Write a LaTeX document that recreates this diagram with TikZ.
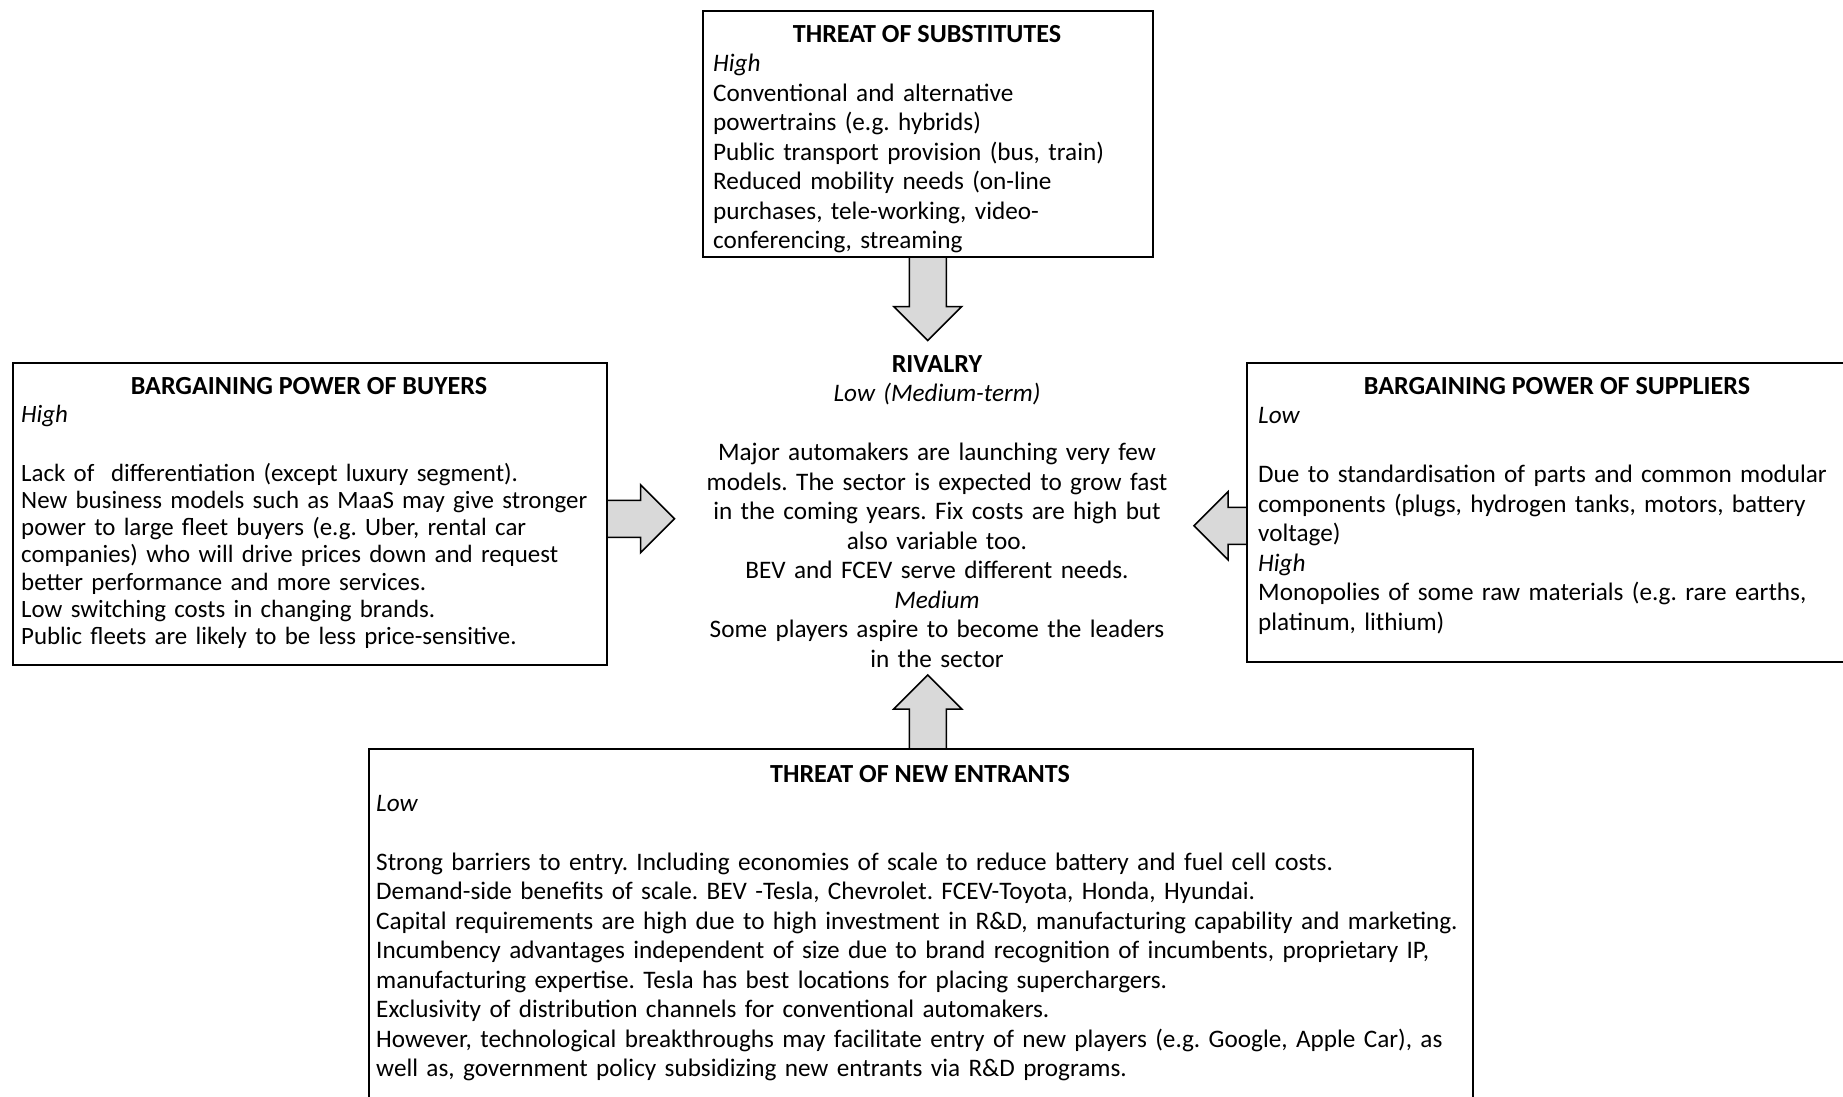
\documentclass[tikz,border=0pt]{standalone}
\usepackage{fontspec}
\setmainfont{Carlito}
\usetikzlibrary{calc}
\pgfdeclarelayer{bg}
\pgfsetlayers{bg,main}
\definecolor{arrowgray}{HTML}{D9D9D9}
\tikzset{
  frame/.style={draw=black, line width=1.5pt, inner sep=0pt, anchor=north west},
  ttl/.style={inner sep=0pt, anchor=base, font=\fontsize{26.1}{29.5}\selectfont\bfseries},
  body/.style={inner sep=0pt, anchor=base west, align=left, text width=1200pt, font=\fontsize{25.2}{29.5}\selectfont\frenchspacing},
  fatarr/.style={draw=black, fill=arrowgray, line width=1.5pt, line join=miter}
}
\newcommand{\fatarrow}[3]{%
  \filldraw[fatarr, shift={#1}, rotate=#2] (0,18.5) -- (#3-34,18.5) -- (#3-34,34) -- (#3,0) -- (#3-34,-34) -- (#3-34,-18.5) -- (0,-18.5);}
\begin{document}
\begin{tikzpicture}[x=1pt, y=-1pt]
\useasboundingbox (0,0) rectangle (1843,1096);
\clip (0,0) rectangle (1843,1096);
% boxes
\node[frame, minimum width=450pt, minimum height=246pt] (sub) at (702,10) {};
\node[frame, minimum width=594pt, minimum height=302pt] (buy) at (12,362) {};
\node[frame, minimum width=622pt, minimum height=299pt] (sup) at (1246,362) {};
\node[frame, minimum width=1104pt, minimum height=400pt] (ent) at (368,748) {};
% threat of substitutes
\node[ttl] (subT) at (927,42) {THREAT OF SUBSTITUTES};
\node[body] (subB) at (713,71.5) {\textit{High}\\Conventional and alternative\\powertrains (e.g. hybrids)\\Public transport provision (bus, train)\\Reduced mobility needs (on-line\\purchases, tele-working, video-\\conferencing, streaming};
% buyers
\node[ttl] (buyT) at (309,394) {BARGAINING POWER OF BUYERS};
\node[body, font=\fontsize{24.9}{27.3}\selectfont\frenchspacing] (buyB) at (21,422) {\textit{High}\\[31.7pt]Lack of\ \ differentiation (except luxury segment).\\New business models such as MaaS may give stronger\\power to large fleet buyers (e.g. Uber, rental car\\companies) who will drive prices down and request\\better performance and more services.\\Low switching costs in changing brands.\\Public fleets are likely to be less price-sensitive.};
% suppliers
\node[ttl] (supT) at (1557,394) {BARGAINING POWER OF SUPPLIERS};
\node[body] (supB) at (1258,423.5) {\textit{Low}\\\mbox{}\\Due to standardisation of parts and common modular\\components (plugs, hydrogen tanks, motors, battery\\voltage)\\\textit{High}\\Monopolies of some raw materials (e.g. rare earths,\\platinum, lithium)};
% new entrants
\node[ttl] (entT) at (920,782) {THREAT OF NEW ENTRANTS};
\node[body] (entB) at (376,811.4) {\textit{Low}\\\mbox{}\\Strong barriers to entry. Including economies of scale to reduce battery and fuel cell costs.\\Demand-side benefits of scale. BEV -Tesla, Chevrolet. FCEV-Toyota, Honda, Hyundai.\\Capital requirements are high due to high investment in R\&D, manufacturing capability and marketing.\\Incumbency advantages independent of size due to brand recognition of incumbents, proprietary IP,\\manufacturing expertise. Tesla has best locations for placing superchargers.\\Exclusivity of distribution channels for conventional automakers.\\However, technological breakthroughs may facilitate entry of new players (e.g. Google, Apple Car), as\\well as, government policy subsidizing new entrants via R\&D programs.};
% rivalry
\node[inner sep=0pt, anchor=base, align=center, text width=600pt, font=\fontsize{25.2}{29.5}\selectfont\frenchspacing] (riv) at (937,372) {{\fontsize{26.1}{29.5}\selectfont\textbf{RIVALRY}}\\\textit{Low (Medium-term)}\\\mbox{}\\Major automakers are launching very few\\models. The sector is expected to grow fast\\in the coming years. Fix costs are high but\\also variable too.\\BEV and FCEV serve different needs.\\\textit{Medium}\\Some players aspire to become the leaders\\in the sector};
% arrows
\begin{pgfonlayer}{bg}
\fatarrow{(sub.south)}{-90}{83}
\fatarrow{($(buy.east)+(0,5)$)}{0}{67}
\fatarrow{($(sup.west)+(0,13.5)$)}{180}{52}
\fatarrow{($(ent.north)+(7,0)$)}{90}{73}
\end{pgfonlayer}
\end{tikzpicture}
\end{document}
